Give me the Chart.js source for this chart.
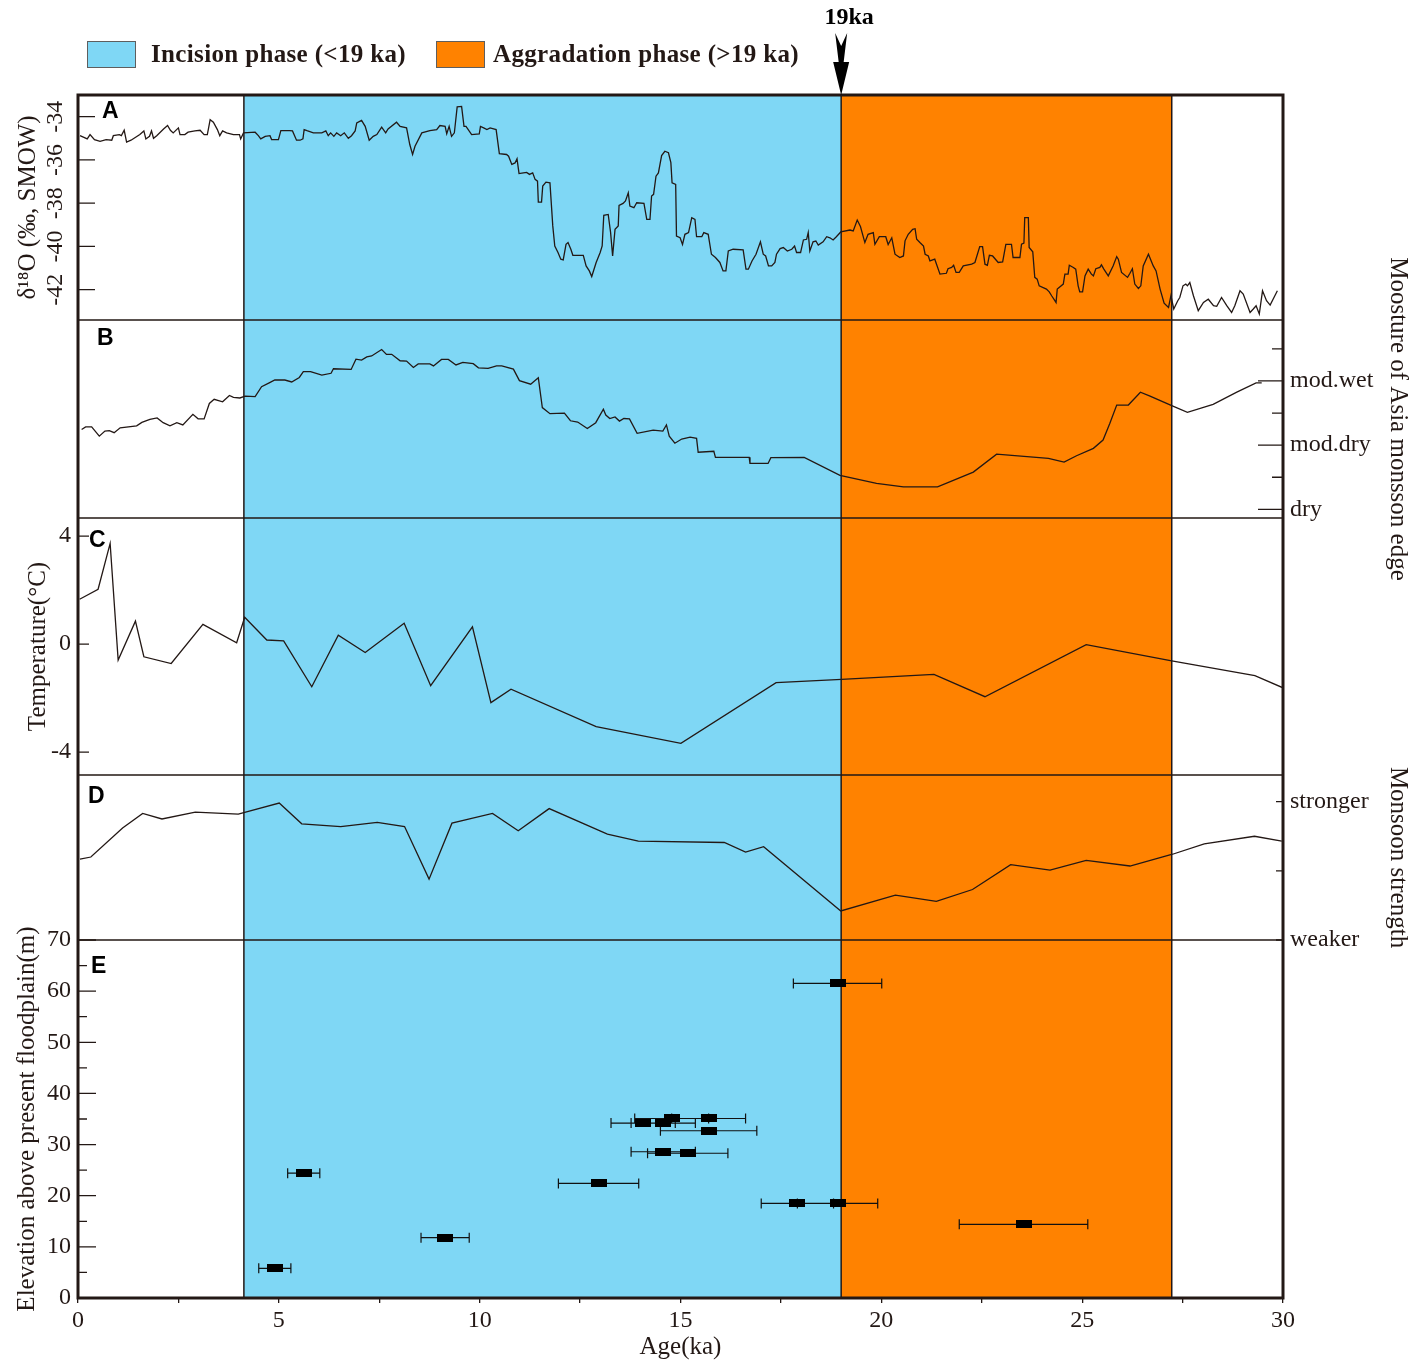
<!DOCTYPE html>
<html>
<head>
<meta charset="utf-8">
<script src="https://cdn.jsdelivr.net/npm/chart.js@4.4.1/dist/chart.umd.min.js"></script>
<style>
  body { margin: 0; background: #fff; }
  #wrap { position: relative; width: 1425px; height: 1362px; }
  #legend { position: absolute; left: 87px; top: 40px; display: flex; align-items: center;
            font: bold 25px 'Liberation Serif', 'Times New Roman', serif; color: #231815; letter-spacing: 0.35px; }
  #legend .box { width: 47px; height: 25px; border: 1.5px solid #5e5e5e; }
  #legend .txt { margin-left: 15px; margin-right: 30px; }
  #legend .txt2 { margin-left: 8px; }
</style>
</head>
<body>
<div id="wrap">
  <canvas id="chart" width="1425" height="1362"></canvas>
  <div id="legend">
    <div class="box" style="background:#7fd7f5"></div><span class="txt">Incision phase (&lt;19 ka)</span>
    <div class="box" style="background:#ff8200"></div><span class="txt2">Aggradation phase (&gt;19 ka)</span>
  </div>
</div>
<script>
// phases
const bandStart = [4.13, 19.0];
const bandEnd = [19.0, 27.23];
const bandColors = ['#7fd7f5', '#ff8200'];

// A: d18O
const aAge = [0.05,0.23,0.30,0.41,0.55,0.70,0.84,0.88,1.03,1.08,
  1.15,1.21,1.32,1.54,1.64,1.69,1.78,1.83,1.88,1.96,
  2.13,2.23,2.30,2.37,2.50,2.54,2.66,2.74,2.91,3.04,
  3.14,3.22,3.29,3.37,3.47,3.53,3.60,3.70,3.87,4.02,
  4.05,4.12,4.41,4.49,4.55,4.66,4.78,4.82,4.99,5.05,
  5.27,5.34,5.44,5.53,5.60,5.63,5.70,5.86,6.07,6.17,
  6.23,6.29,6.37,6.44,6.54,6.63,6.73,6.81,6.90,6.94,
  7.06,7.15,7.25,7.35,7.44,7.56,7.66,7.72,7.93,8.02,
  8.18,8.26,8.33,8.39,8.56,8.76,8.93,9.01,9.14,9.18,
  9.24,9.30,9.37,9.44,9.55,9.61,9.66,9.80,9.99,10.02,
  10.10,10.18,10.26,10.41,10.49,10.67,10.72,10.80,10.88,10.93,
  10.98,11.09,11.17,11.24,11.32,11.38,11.44,11.46,11.54,11.57,
  11.65,11.75,11.82,11.87,11.95,12.02,12.08,12.15,12.20,12.27,
  12.32,12.58,12.65,12.73,12.79,12.90,13.00,13.05,13.09,13.20,
  13.26,13.31,13.37,13.45,13.47,13.57,13.63,13.70,13.74,13.84,
  13.91,14.09,14.16,14.24,14.28,14.33,14.39,14.45,14.53,14.61,
  14.70,14.76,14.79,14.88,14.90,14.99,15.05,15.11,15.20,15.28,
  15.36,15.40,15.53,15.58,15.69,15.77,15.87,15.98,16.06,16.13,
  16.19,16.31,16.56,16.63,16.69,16.78,16.88,16.99,17.06,17.12,
  17.19,17.27,17.35,17.39,17.48,17.56,17.66,17.77,17.84,17.89,
  17.99,18.06,18.14,18.18,18.22,18.30,18.37,18.43,18.55,18.64,
  18.72,18.80,18.88,18.99,19.22,19.30,19.40,19.48,19.59,19.67,
  19.80,19.84,19.95,20.11,20.17,20.26,20.34,20.46,20.55,20.59,
  20.67,20.78,20.84,20.88,20.96,21.05,21.09,21.17,21.21,21.33,
  21.46,21.62,21.66,21.75,21.80,21.86,21.94,22.04,22.25,22.33,
  22.45,22.52,22.58,22.64,22.69,22.77,22.91,23.02,23.10,23.24,
  23.28,23.45,23.49,23.55,23.57,23.66,23.68,23.77,23.82,23.88,
  23.93,24.11,24.18,24.24,24.35,24.38,24.53,24.57,24.65,24.68,
  24.78,24.84,24.90,24.94,25.01,25.07,25.15,25.23,25.28,25.34,
  25.44,25.48,25.54,25.65,25.77,25.86,25.90,25.98,26.13,26.19,
  26.25,26.31,26.40,26.46,26.52,26.65,26.77,26.84,26.94,27.04,
  27.15,27.21,27.28,27.38,27.43,27.51,27.58,27.62,27.68,27.77,
  27.89,28.02,28.14,28.27,28.35,28.47,28.60,28.72,28.80,28.93,
  29.01,29.18,29.26,29.33,29.41,29.49,29.59,29.68,29.86];
const aVal = [-34.88,-35.03,-34.83,-35.06,-35.14,-35.06,-35.09,-34.88,-34.83,-34.88,
  -34.63,-35.18,-35.09,-34.83,-34.66,-35.03,-34.91,-34.66,-35.00,-34.88,
  -34.57,-34.41,-34.63,-34.75,-34.52,-34.83,-34.83,-34.72,-34.66,-34.63,
  -34.83,-34.83,-34.14,-34.26,-34.60,-34.88,-34.66,-34.75,-34.83,-34.83,
  -35.03,-34.75,-34.72,-34.88,-35.03,-34.91,-34.88,-35.06,-35.06,-34.65,
  -34.65,-34.66,-35.09,-35.09,-35.03,-34.60,-34.65,-34.75,-34.75,-34.66,
  -34.88,-34.75,-34.91,-34.75,-34.88,-34.75,-35.00,-34.88,-34.66,-34.29,
  -34.17,-34.45,-35.09,-34.91,-34.83,-34.49,-34.75,-34.57,-34.26,-34.45,
  -34.52,-35.29,-35.75,-35.37,-34.75,-34.65,-34.60,-34.41,-34.45,-34.79,
  -34.45,-34.91,-34.75,-33.55,-33.53,-34.45,-34.45,-34.83,-34.80,-34.45,
  -34.52,-34.60,-34.52,-34.60,-35.71,-35.75,-35.83,-36.21,-36.14,-35.95,
  -36.63,-36.60,-36.58,-36.67,-36.60,-36.90,-36.98,-37.95,-37.95,-37.21,
  -37.03,-37.06,-39.05,-39.98,-40.28,-40.59,-40.62,-39.90,-39.82,-40.13,
  -40.41,-40.41,-40.90,-41.13,-41.39,-40.74,-40.28,-39.98,-38.56,-38.52,
  -39.36,-40.44,-39.21,-39.05,-38.10,-38.01,-37.90,-37.52,-38.13,-38.21,
  -37.98,-38.01,-38.75,-38.75,-37.67,-37.59,-36.75,-36.60,-35.80,-35.60,
  -35.67,-36.13,-37.06,-37.13,-39.52,-39.60,-39.91,-39.44,-39.36,-38.67,
  -38.75,-39.55,-39.55,-39.36,-39.44,-40.36,-40.51,-40.74,-41.13,-41.13,
  -40.21,-40.13,-40.16,-41.05,-41.05,-40.67,-40.36,-39.79,-40.36,-40.44,
  -40.90,-40.90,-40.74,-40.36,-40.10,-40.05,-40.21,-40.13,-39.98,-40.28,
  -40.28,-39.70,-39.67,-39.36,-40.21,-39.79,-39.75,-39.94,-39.79,-39.55,
  -39.60,-39.70,-39.55,-39.33,-39.24,-39.28,-38.78,-39.08,-39.82,-39.44,
  -39.36,-39.90,-39.55,-39.55,-39.91,-39.60,-40.36,-40.51,-40.44,-39.74,
  -39.44,-39.21,-39.18,-39.67,-39.82,-39.98,-40.36,-40.44,-40.67,-40.59,
  -41.28,-41.24,-41.03,-40.97,-40.87,-41.20,-41.20,-40.90,-40.82,-40.74,
  -40.01,-40.01,-40.82,-40.87,-40.41,-40.44,-40.74,-40.71,-39.90,-39.90,
  -40.51,-40.51,-39.90,-39.85,-38.67,-38.67,-40.05,-40.25,-41.43,-41.51,
  -41.82,-41.97,-42.10,-42.28,-42.59,-41.97,-41.74,-41.28,-41.28,-40.87,
  -40.97,-41.05,-41.82,-42.10,-42.10,-41.36,-41.05,-41.28,-41.36,-41.03,
  -40.97,-40.85,-41.05,-41.36,-40.90,-40.47,-40.59,-41.20,-41.43,-41.24,
  -41.03,-41.74,-41.94,-41.82,-40.90,-40.36,-40.90,-41.13,-41.97,-42.62,
  -42.82,-42.28,-42.89,-42.51,-42.36,-41.82,-41.74,-41.82,-41.67,-42.28,
  -42.97,-42.59,-42.44,-42.74,-42.77,-42.36,-42.74,-43.05,-42.74,-42.05,
  -42.20,-43.05,-42.89,-42.74,-43.12,-42.05,-42.51,-42.71,-42.05];
const aTicks = [-42, -40, -38, -36, -34];

// B: moisture of Asia monsoon edge (0 = dry, 2 = mod.dry, 4 = mod.wet)
const bAge = [0.09,0.19,0.34,0.53,0.67,0.78,0.90,1.05,1.46,1.59,
  1.79,1.97,2.12,2.29,2.46,2.61,2.86,2.99,3.14,3.27,
  3.39,3.60,3.77,3.87,4.03,4.16,4.41,4.57,4.76,4.90,
  5.15,5.32,5.51,5.61,5.79,6.07,6.30,6.36,6.80,6.92,
  7.06,7.19,7.31,7.56,7.68,7.81,8.02,8.18,8.35,8.47,
  8.76,8.85,9.05,9.22,9.41,9.58,9.84,9.97,10.21,10.42,
  10.55,10.84,10.99,11.27,11.46,11.56,11.75,12.11,12.26,12.44,
  12.68,12.89,13.08,13.14,13.24,13.37,13.48,13.59,13.73,13.92,
  14.32,14.56,14.65,14.72,14.86,15.03,15.24,15.40,15.44,15.83,
  15.87,16.71,16.73,17.18,17.25,18.08,18.97,19.88,20.55,21.40,
  22.29,22.87,24.16,24.55,24.86,25.28,25.52,25.69,25.86,26.15,
  26.45,26.69,27.23,27.62,28.26,28.85,29.33,29.47];
const bVal = [2.49,2.57,2.57,2.28,2.44,2.45,2.39,2.54,2.60,2.71,
  2.80,2.85,2.70,2.60,2.70,2.63,2.96,2.82,2.82,3.30,
  3.43,3.35,3.55,3.49,3.47,3.53,3.51,3.82,3.94,4.03,
  4.03,3.97,4.11,4.29,4.29,4.18,4.24,4.38,4.36,4.68,
  4.65,4.75,4.78,4.98,4.83,4.83,4.63,4.62,4.42,4.53,
  4.53,4.47,4.67,4.67,4.50,4.58,4.54,4.41,4.39,4.47,
  4.47,4.37,4.01,3.90,4.10,3.17,2.98,3.00,2.76,2.72,
  2.52,2.70,3.12,2.94,2.83,2.88,2.75,2.83,2.82,2.37,
  2.47,2.44,2.63,2.28,2.06,2.19,2.25,2.21,1.78,1.81,
  1.62,1.62,1.43,1.43,1.61,1.62,1.06,0.81,0.70,0.70,
  1.16,1.72,1.59,1.47,1.67,1.90,2.16,2.68,3.25,3.25,
  3.65,3.53,3.23,3.02,3.27,3.65,3.94,3.94];
const bTicks = [0, 1, 2, 3, 4, 5];
const bTickLabels = ['dry', '', 'mod.dry', '', 'mod.wet', ''];

// C: temperature
const cAge = [0.04,0.50,0.80,1.00,1.43,1.64,2.32,3.11,3.95,4.15,4.70,5.12,5.82,6.48,7.15,
  8.12,8.78,9.82,10.28,10.78,12.90,15.01,17.38,19.01,21.31,22.58,25.10,27.23,29.30,30.0];
const cVal = [1.66,2.03,3.73,-0.59,0.85,-0.47,-0.72,0.73,0.05,0.99,0.15,0.12,-1.58,0.33,-0.31,
  0.77,-1.54,0.64,-2.17,-1.67,-3.06,-3.68,-1.43,-1.31,-1.12,-1.95,-0.02,-0.62,-1.17,-1.62];
const cTicks = [-4, 0, 4];

// D: monsoon strength (0 = weaker, 2 = stronger)
const dAge = [0.05,0.32,1.11,1.61,2.09,2.92,3.99,5.01,5.57,6.54,
  7.45,8.13,8.74,9.31,10.32,10.96,11.73,13.18,13.95,16.09,
  16.62,17.07,18.99,20.35,21.37,22.27,23.22,24.20,25.10,26.19,
  27.25,28.04,29.29,29.97];
const dVal = [1.17,1.20,1.62,1.83,1.75,1.85,1.82,1.98,1.68,1.64,
  1.70,1.64,0.88,1.69,1.83,1.58,1.90,1.53,1.43,1.41,
  1.27,1.35,0.42,0.65,0.56,0.73,1.09,1.01,1.15,1.07,
  1.24,1.39,1.50,1.43];
const dTicks = [0, 1, 2];
const dTickLabels = ['weaker', '', 'stronger'];

// E: terrace ages with errors
const eAge = [4.90, 5.62, 9.14, 12.96, 14.07, 14.57, 14.78, 15.70, 15.70, 14.57, 15.18, 17.91, 18.91, 18.91, 23.54];
const eElev = [5.8, 24.4, 11.8, 22.4, 34.2, 34.2, 35.1, 35.1, 32.7, 28.6, 28.3, 18.5, 18.5, 61.5, 14.4];
const eErr = [0.40, 0.40, 0.60, 1.00, 0.80, 0.80, 0.92, 0.92, 1.20, 0.80, 1.00, 0.90, 1.00, 1.10, 1.60];

const panelIds = ['yA', 'yB', 'yC', 'yD', 'yE'];
const panelH = [225, 198, 257, 165, 358];
const panelLetters = ['A', 'B', 'C', 'D', 'E'];

const ink = '#231815';
const serif = "'Liberation Serif', 'Times New Roman', serif";
const LEFT_W = 78, RIGHT_W = 142;

function pts(xs, ys) { return xs.map((x, i) => ({ x: x, y: ys[i] })); }
const fixW = w => s => { s.width = w; };
const setTicks = arr => s => { s.ticks = arr.map(v => ({ value: v })); };

function dummy(pos, weight, min, max) {
  return {
    type: 'linear', position: pos, stack: pos === 'left' ? 'L' : 'R', stackWeight: weight,
    min: min, max: max,
    ticks: { display: false }, grid: { display: false, drawTicks: false }, border: { display: false },
    afterFit: fixW(pos === 'left' ? LEFT_W : RIGHT_W)
  };
}

const marker = document.createElement('canvas');
marker.width = 16; marker.height = 8;
marker.getContext('2d').fillRect(0, 0, 16, 8);

// inward tick lengths [labelled, unlabelled]
const tickIn = { yA: [17, 17], rB: [25, 11], yC: [11, 11], rD: [7, 7], yE: [18, 9] };
const letterDx = [24, 19, 11, 10, 13];
const letterDy = [23, 25, 29, 28, 33];

const decor = {
  id: 'decor',
  beforeDatasetsDraw(chart) {
    const { ctx, chartArea: ca, scales } = chart;
    const xs = scales.x;
    ctx.save();
    bandStart.forEach((s, i) => {
      const x0 = xs.getPixelForValue(s), x1 = xs.getPixelForValue(bandEnd[i]);
      ctx.fillStyle = bandColors[i];
      ctx.fillRect(x0, ca.top, x1 - x0, ca.bottom - ca.top);
    });
    ctx.strokeStyle = ink;
    ctx.lineWidth = 1.5;
    ctx.beginPath();
    [bandStart[0], bandEnd[0], bandEnd[1]].forEach(v => {
      const px = xs.getPixelForValue(v);
      ctx.moveTo(px, ca.top); ctx.lineTo(px, ca.bottom);
    });
    panelIds.slice(0, -1).forEach(id => {
      const y = scales[id].bottom;
      ctx.moveTo(ca.left, y); ctx.lineTo(ca.right, y);
    });
    ctx.stroke();

    ctx.lineWidth = 1.3;
    ctx.beginPath();
    Object.keys(tickIn).forEach(id => {
      const s = scales[id];
      const left = s.position === 'left';
      s.ticks.forEach(t => {
        const len = t.label !== '' ? tickIn[id][0] : tickIn[id][1];
        const y = s.getPixelForValue(t.value);
        const x0 = left ? ca.left : ca.right;
        ctx.moveTo(x0, y); ctx.lineTo(left ? x0 + len : x0 - len, y);
      });
    });
    ctx.stroke();

    // error bars for panel E
    const ys = scales.yE;
    ctx.lineWidth = 1.2;
    ctx.strokeStyle = '#111';
    ctx.beginPath();
    eAge.forEach((a, i) => {
      const y = ys.getPixelForValue(eElev[i]);
      const xl = xs.getPixelForValue(a - eErr[i]), xr = xs.getPixelForValue(a + eErr[i]);
      ctx.moveTo(xl, y); ctx.lineTo(xr, y);
      ctx.moveTo(xl, y - 5); ctx.lineTo(xl, y + 5);
      ctx.moveTo(xr, y - 5); ctx.lineTo(xr, y + 5);
    });
    ctx.stroke();
    ctx.restore();
  },
  afterDatasetsDraw(chart) {
    const { ctx, chartArea: ca, scales } = chart;
    ctx.save();
    ctx.strokeStyle = ink;
    ctx.lineWidth = 3;
    ctx.strokeRect(ca.left, ca.top, ca.right - ca.left, ca.bottom - ca.top);

    ctx.fillStyle = '#000';
    ctx.font = "bold 23px 'Liberation Sans', Arial, sans-serif";
    ctx.textBaseline = 'alphabetic';
    panelIds.forEach((id, i) => {
      ctx.fillText(panelLetters[i], ca.left + letterDx[i], scales[id].top + letterDy[i]);
    });

    // 19 ka marker
    const xp = scales.x.getPixelForValue(bandEnd[0]);
    ctx.fillStyle = '#000';
    ctx.font = "bold 24px " + serif;
    ctx.textAlign = 'center';
    ctx.fillText('19ka', xp + 8, 24);
    ctx.beginPath();
    ctx.moveTo(xp - 6, 33); ctx.lineTo(xp, 46); ctx.lineTo(xp + 6, 33);
    ctx.lineTo(xp + 2.5, 62); ctx.lineTo(xp + 8, 62);
    ctx.lineTo(xp, ca.top); ctx.lineTo(xp - 8, 62); ctx.lineTo(xp - 2.5, 62);
    ctx.closePath();
    ctx.fill();
    ctx.restore();
  }
};

const tickFont = { family: serif, size: 24 };
const titleFont = { family: serif, size: 25 };

new Chart(document.getElementById('chart'), {
  type: 'line',
  data: {
    datasets: [
      { label: 'A', data: pts(aAge, aVal), yAxisID: 'yA', borderColor: ink, borderWidth: 1.3, pointRadius: 0, tension: 0 },
      { label: 'B', data: pts(bAge, bVal), yAxisID: 'rB', borderColor: ink, borderWidth: 1.3, pointRadius: 0, tension: 0 },
      { label: 'C', data: pts(cAge, cVal), yAxisID: 'yC', borderColor: ink, borderWidth: 1.3, pointRadius: 0, tension: 0 },
      { label: 'D', data: pts(dAge, dVal), yAxisID: 'rD', borderColor: ink, borderWidth: 1.3, pointRadius: 0, tension: 0 },
      { label: 'E', type: 'scatter', data: pts(eAge, eElev), yAxisID: 'yE', showLine: false,
        pointStyle: marker, pointRadius: 8, pointHoverRadius: 8 }
    ]
  },
  options: {
    responsive: false,
    devicePixelRatio: 1,
    animation: false,
    events: [],
    layout: { padding: { top: 95, left: 0, right: 0, bottom: 0 } },
    plugins: { legend: { display: false }, tooltip: { enabled: false } },
    scales: {
      x: {
        type: 'linear', position: 'bottom', min: 0, max: 30,
        ticks: { stepSize: 2.5, autoSkip: false, maxRotation: 0, padding: 3, color: ink, font: tickFont,
                 callback: v => (v % 5 === 0 ? v : '') },
        grid: { display: true, drawOnChartArea: false, drawTicks: true, tickLength: 5, color: ink, lineWidth: 1.3 },
        border: { display: false },
        title: { display: true, text: 'Age(ka)', color: ink, font: titleFont, padding: { top: 0, bottom: 0 } },
        afterFit: s => { s.height = 64; }
      },
      rA: dummy('right', panelH[0], 0, 1),
      rB: {
        type: 'linear', position: 'right', stack: 'R', stackWeight: panelH[1], min: -0.27, max: 5.9,
        afterBuildTicks: setTicks(bTicks),
        ticks: { autoSkip: false, padding: 7, color: ink, font: tickFont, callback: (v, i) => bTickLabels[i] },
        grid: { display: false, drawTicks: false }, border: { display: false },
        title: { display: true, text: 'Moosture of Asia monsson edge', color: ink, font: titleFont, padding: { top: 12, bottom: 0 } },
        afterFit: fixW(RIGHT_W)
      },
      rC: dummy('right', panelH[2], 0, 1),
      rD: {
        type: 'linear', position: 'right', stack: 'R', stackWeight: panelH[3], min: 0, max: 2.386,
        afterBuildTicks: setTicks(dTicks),
        ticks: { autoSkip: false, padding: 7, color: ink, font: tickFont, callback: (v, i) => dTickLabels[i] },
        grid: { display: false, drawTicks: false }, border: { display: false },
        title: { display: true, text: 'Monsoon strength', color: ink, font: titleFont, padding: { top: 12, bottom: 0 } },
        afterFit: fixW(RIGHT_W)
      },
      rE: dummy('right', panelH[4], 0, 1),
      yE: {
        type: 'linear', position: 'left', stack: 'L', stackWeight: panelH[4], min: 0, max: 70,
        ticks: { stepSize: 5, autoSkip: false, padding: 7, color: ink, font: tickFont,
                 callback: v => (v % 10 === 0 ? v : '') },
        grid: { display: false, drawTicks: false }, border: { display: false },
        title: { display: true, text: 'Elevation above present floodplain(m)', color: ink, font: titleFont, padding: { top: 12, bottom: 0 } },
        afterFit: fixW(LEFT_W)
      },
      yD: dummy('left', panelH[3], 0, 1),
      yC: {
        type: 'linear', position: 'left', stack: 'L', stackWeight: panelH[2], min: -4.85, max: 4.67,
        afterBuildTicks: setTicks(cTicks),
        ticks: { autoSkip: false, padding: 7, color: ink, font: tickFont },
        grid: { display: false, drawTicks: false }, border: { display: false },
        title: { display: true, text: 'Temperature(°C)', color: ink, font: titleFont, padding: { top: 23, bottom: 0 } },
        afterFit: fixW(LEFT_W)
      },
      yB: dummy('left', panelH[1], 0, 1),
      yA: {
        type: 'linear', position: 'left', stack: 'L', stackWeight: panelH[0], min: -43.4, max: -33,
        afterBuildTicks: setTicks(aTicks),
        ticks: { autoSkip: false, padding: 6, minRotation: 90, maxRotation: 90, crossAlign: 'center',
                 color: ink, font: tickFont },
        grid: { display: false, drawTicks: false }, border: { display: false },
        title: { display: true, text: 'δ¹⁸O (‰, SMOW)', color: ink, font: titleFont, padding: { top: 13, bottom: 0 } },
        afterFit: fixW(LEFT_W)
      }
    }
  },
  plugins: [decor]
});
</script>
</body>
</html>
